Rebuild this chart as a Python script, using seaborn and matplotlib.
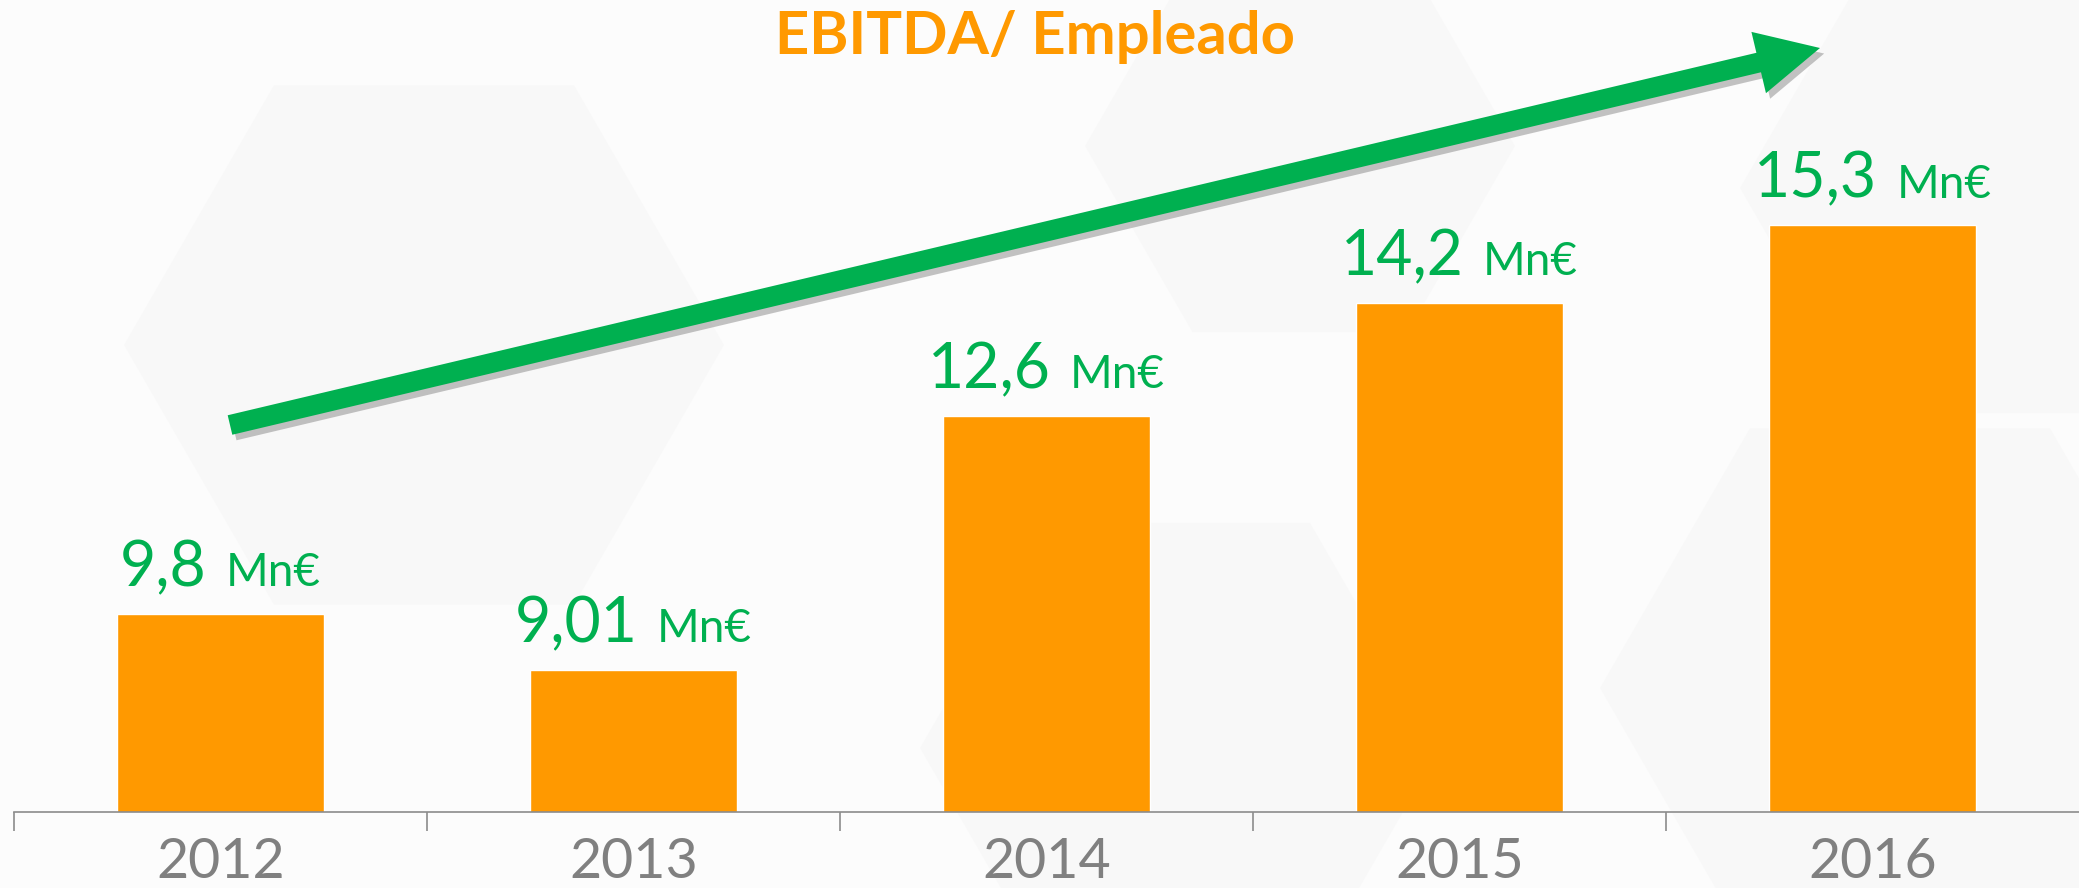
import numpy as np
import pandas as pd
import seaborn as sns
import matplotlib.pyplot as plt
from matplotlib.patches import FancyArrow, RegularPolygon
from matplotlib.offsetbox import TextArea, HPacker, AnnotationBbox
import matplotlib.patheffects as pe

# data
years = ['2012', '2013', '2014', '2015', '2016']
ebitda = [9.8, 9.01, 12.6, 14.2, 15.3]
labels = ['9,8', '9,01', '12,6', '14,2', '15,3']
unit = 'Mn€'
title = 'EBITDA/ Empleado'

orange = '#FF9900'
green = '#00B050'
grey = '#808080'

sns.set_style('white')
plt.rcParams['font.family'] = ['Lato', 'DejaVu Sans']

df = pd.DataFrame({'year': years, 'value': ebitda})

fig = plt.figure(figsize=(20.79, 8.88), dpi=100, facecolor='#fcfcfc')

# faint background hexagons
for cx, cy, r in [(424, 543, 300), (1300, 742, 215), (1180, 140, 260), (1900, 200, 300), (2000, 700, 260)]:
    fig.add_artist(RegularPolygon((cx / 100, cy / 100), 6, radius=r / 100, orientation=np.pi / 6,
                                  transform=fig.dpi_scale_trans, facecolor='#f5f5f5',
                                  edgecolor='none', alpha=0.5, zorder=0))

ax = fig.add_axes([14 / 2079, 76 / 888, 2065 / 2079, 812 / 888])
ax.set_facecolor('none')
sns.barplot(data=df, x='year', y='value', color=orange, saturation=1, width=0.5, ax=ax)

ax.set_xlim(-0.5, 4.5)
ax.set_ylim(7.0, 7.0 + 812 / 70.7)
ax.set_xlabel('')
ax.set_ylabel('')
ax.set_yticks([])
for s in ['top', 'right', 'left']:
    ax.spines[s].set_visible(False)
ax.spines['bottom'].set_color('#8c8c8c')
ax.spines['bottom'].set_linewidth(1.2)
ax.set_xticks(range(len(years)))
ax.set_xticklabels(years, fontsize=40, color=grey)
ax.set_xticks([-0.5, 0.5, 1.5, 2.5, 3.5], minor=True)
ax.tick_params(axis='x', which='both', bottom=True)
ax.tick_params(axis='x', which='major', length=0, pad=18)
ax.tick_params(axis='x', which='minor', length=14, width=1.2, color='#8c8c8c', direction='out')

# value labels
for i, (v, lab) in enumerate(zip(ebitda, labels)):
    box = HPacker(children=[TextArea(lab, textprops=dict(fontsize=45, color=green)),
                            TextArea(unit, textprops=dict(fontsize=33, color=green))],
                  align='baseline', pad=0, sep=14)
    ab = AnnotationBbox(box, (i, v), xybox=(0, 12), xycoords='data', boxcoords='offset points',
                        box_alignment=(0.5, 0), frameon=False, pad=0)
    ax.add_artist(ab)

# trend arrow
arrow = FancyArrow(2.30, 4.63, 15.90, 3.77, width=0.20, head_width=0.63, head_length=0.63,
                   length_includes_head=True, transform=fig.dpi_scale_trans,
                   facecolor=green, edgecolor='none', zorder=5)
arrow.set_path_effects([pe.SimplePatchShadow(offset=(3, -4), shadow_rgbFace='#555555', alpha=0.35),
                        pe.Normal()])
fig.add_artist(arrow)

fig.text(1035 / 2079, 1 - 37 / 888, title, ha='center', va='center', fontsize=43,
         fontweight='bold', color=orange)

fig.savefig('out.png', dpi=100, facecolor=fig.get_facecolor())
